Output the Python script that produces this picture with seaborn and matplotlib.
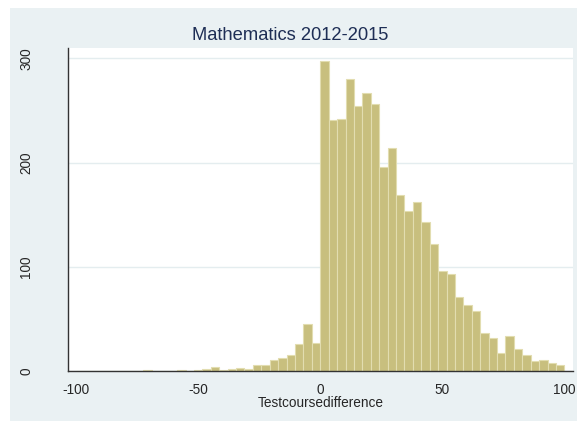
import numpy as np
import pandas as pd
import matplotlib
matplotlib.use("Agg")
import matplotlib.pyplot as plt
from matplotlib.patches import Rectangle
import seaborn as sns

sns.set_style("white")
plt.rcParams["font.family"] = ["Liberation Sans", "DejaVu Sans"]
plt.rcParams["axes.unicode_minus"] = False

# histogram counts: 58 bins from -100 to 100
counts = [0, 0, 0, 0, 0, 0, 0, 0, 1, 0,
          0, 0, 1, 0, 1, 2, 4, 1, 2, 3,
          2, 6, 6, 11, 12, 15, 26, 45, 27,
          298, 241, 242, 280, 254, 267, 256, 196, 214, 169,
          154, 162, 143, 122, 96, 93, 71, 63, 58, 36,
          32, 17, 34, 21, 15, 10, 11, 8, 6]
x_min, x_max = -100, 100
x_ticks = [-100, -50, 0, 50, 100]
y_ticks = [0, 100, 200, 300]
title = "Mathematics 2012-2015"
x_label = "Testcoursedifference"

edges = np.linspace(x_min, x_max, len(counts) + 1)
df = pd.DataFrame({"mid": (edges[:-1] + edges[1:]) / 2, "n": counts})

W, H = 578, 422
fig = plt.figure(figsize=(W / 100, H / 100), dpi=100)
fig.patch.set_facecolor("white")
fig.add_artist(Rectangle((10 / W, 1 / H), 567 / W, 413 / H, transform=fig.transFigure,
                         facecolor="#EAF1F3", edgecolor="none", zorder=-5))

ax = fig.add_axes([68 / W, (H - 371) / H, (572.5 - 68) / W, (371 - 48) / H])
ax.set_facecolor("white")
sns.histplot(data=df, x="mid", weights="n", bins=len(counts), binrange=(x_min, x_max), ax=ax,
             color="#C8BF7E", edgecolor="#E2DDB0", linewidth=0.8, alpha=1)

ax.set_xlim(-103.3, 103.3)
ax.set_ylim(0, 310)
ax.set_xticks(x_ticks)
ax.set_yticks(y_ticks)
ax.set_yticklabels([str(v) for v in y_ticks], rotation=90, va="center")
ax.yaxis.grid(True, color="#E4EDEF", linewidth=1)
ax.set_axisbelow(True)
for s in ["top", "right"]:
    ax.spines[s].set_visible(False)
for s in ["left", "bottom"]:
    ax.spines[s].set_color("#333333")
    ax.spines[s].set_linewidth(1)
ax.tick_params(axis="x", length=4, width=1, color="#333333", pad=5, labelsize=9.8)
ax.tick_params(axis="y", length=5, width=1, color="#333333", pad=20, labelsize=9.8)
ax.set_xlabel(x_label, fontsize=9.8, labelpad=-1)
ax.set_ylabel("")

fig.text(290 / W, 1 - 35 / H, title, ha="center", va="center", fontsize=13.2, color="#1E2E55")

plt.savefig("out.png", dpi=100)
plt.close()
